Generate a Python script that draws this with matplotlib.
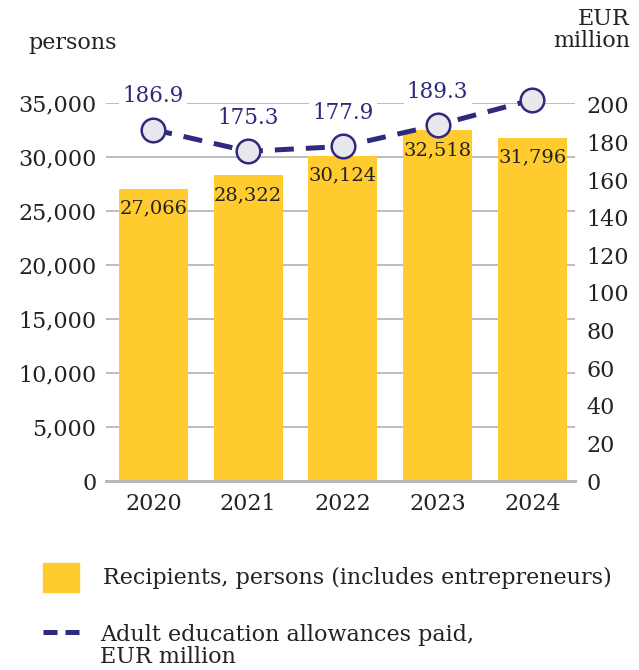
import matplotlib.pyplot as plt
from matplotlib.patches import Rectangle
from matplotlib.lines import Line2D

plt.rcParams['font.family'] = ['DejaVu Serif']

# ------------------------------------------------------------------
# Data
# ------------------------------------------------------------------
years = ['2020', '2021', '2022', '2023', '2024']
recipients = [27066, 28322, 30124, 32518, 31796]
allowances = [186.9, 175.3, 177.9, 189.3, 202.7]

left_ticks = [0, 5000, 10000, 15000, 20000, 25000, 30000, 35000]
right_ticks = [0, 20, 40, 60, 80, 100, 120, 140, 160, 180, 200]

YELLOW = '#FFCB2F'
NAVY = '#2E2A80'
GRID = '#B8B8B8'
TEXT = '#222222'

fig = plt.figure(figsize=(6.39, 6.70), dpi=100)
ax = fig.add_axes([106 / 639, 1 - 481 / 670, (575 - 106) / 639, (481 - 103) / 670])
ax2 = ax.twinx()

x = list(range(len(years)))

# ------------------------------------------------------------------
# Bars (left axis)
# ------------------------------------------------------------------
ax.set_axisbelow(True)
ax.grid(axis='y', color=GRID, linewidth=1.3)
ax.bar(x, recipients, width=0.73, color=YELLOW, zorder=2)
for xi, v in zip(x, recipients):
    ax.annotate(f'{v:,}', xy=(xi, v), xytext=(0, -8), textcoords='offset points',
                ha='center', va='top', fontsize=14, color=TEXT, zorder=3)

ax.set_xlim(-0.5, 4.45)
ax.set_ylim(0, 35000)
ax.set_yticks(left_ticks)
ax.set_yticklabels([f'{t:,}' for t in left_ticks])
ax.set_xticks(x)
ax.set_xticklabels(years)
ax.tick_params(axis='y', length=0, pad=7, labelsize=16, labelcolor=TEXT)
ax.tick_params(axis='x', length=0, pad=9, labelsize=16, labelcolor=TEXT)
for s in ['top', 'right', 'left']:
    ax.spines[s].set_visible(False)
ax.spines['bottom'].set_color(GRID)
ax.spines['bottom'].set_linewidth(2.2)

# ------------------------------------------------------------------
# Line (right axis)
# ------------------------------------------------------------------
ax2.plot(x, allowances, color=NAVY, linewidth=3.6, dashes=(3.8, 2.4),
         marker='o', markersize=17, markerfacecolor='#E8E8EC',
         markeredgecolor=NAVY, markeredgewidth=1.8, zorder=5, clip_on=False)
for xi, v in zip(x, allowances):
    ax2.annotate(f'{v:.1f}', xy=(xi, v), xytext=(0, 24), textcoords='offset points',
                 ha='center', va='center', fontsize=15.5, color=NAVY, zorder=6,
                 bbox=dict(boxstyle='square,pad=0.15', fc='white', ec='none'))

ax2.set_ylim(0, 201)
ax2.set_yticks(right_ticks)
ax2.tick_params(axis='y', length=0, pad=8, labelsize=16, labelcolor=TEXT)
for s in ax2.spines.values():
    s.set_visible(False)
ax.set_zorder(1)
ax2.set_zorder(2)
ax.patch.set_visible(False)

# ------------------------------------------------------------------
# Axis titles
# ------------------------------------------------------------------
fig.text(28 / 639, 1 - 43 / 670, 'persons', fontsize=16, color=TEXT, ha='left', va='center')
fig.text(630 / 639, 1 - 30 / 670, 'EUR\nmillion', fontsize=16, color=TEXT,
         ha='right', va='center', linespacing=1.0)

# ------------------------------------------------------------------
# Legend
# ------------------------------------------------------------------
fig.patches.append(Rectangle((43 / 639, 1 - 592 / 670), 36 / 639, 29 / 670,
                             transform=fig.transFigure, color=YELLOW))
fig.text(103 / 639, 1 - 578 / 670, 'Recipients, persons (includes entrepreneurs)',
         fontsize=16, color=TEXT, ha='left', va='center')
# two short dashes as the line's legend key
for x0, x1 in [(43, 57), (65, 79)]:
    fig.lines.append(Line2D([x0 / 639, x1 / 639], [1 - 632 / 670, 1 - 632 / 670],
                            transform=fig.transFigure, color=NAVY, linewidth=3.6,
                            solid_capstyle='butt'))
fig.text(100 / 639, 1 - 646 / 670, 'Adult education allowances paid,\nEUR million',
         fontsize=16, color=TEXT, ha='left', va='center', linespacing=0.95)

fig.savefig('out.png', dpi=100)
